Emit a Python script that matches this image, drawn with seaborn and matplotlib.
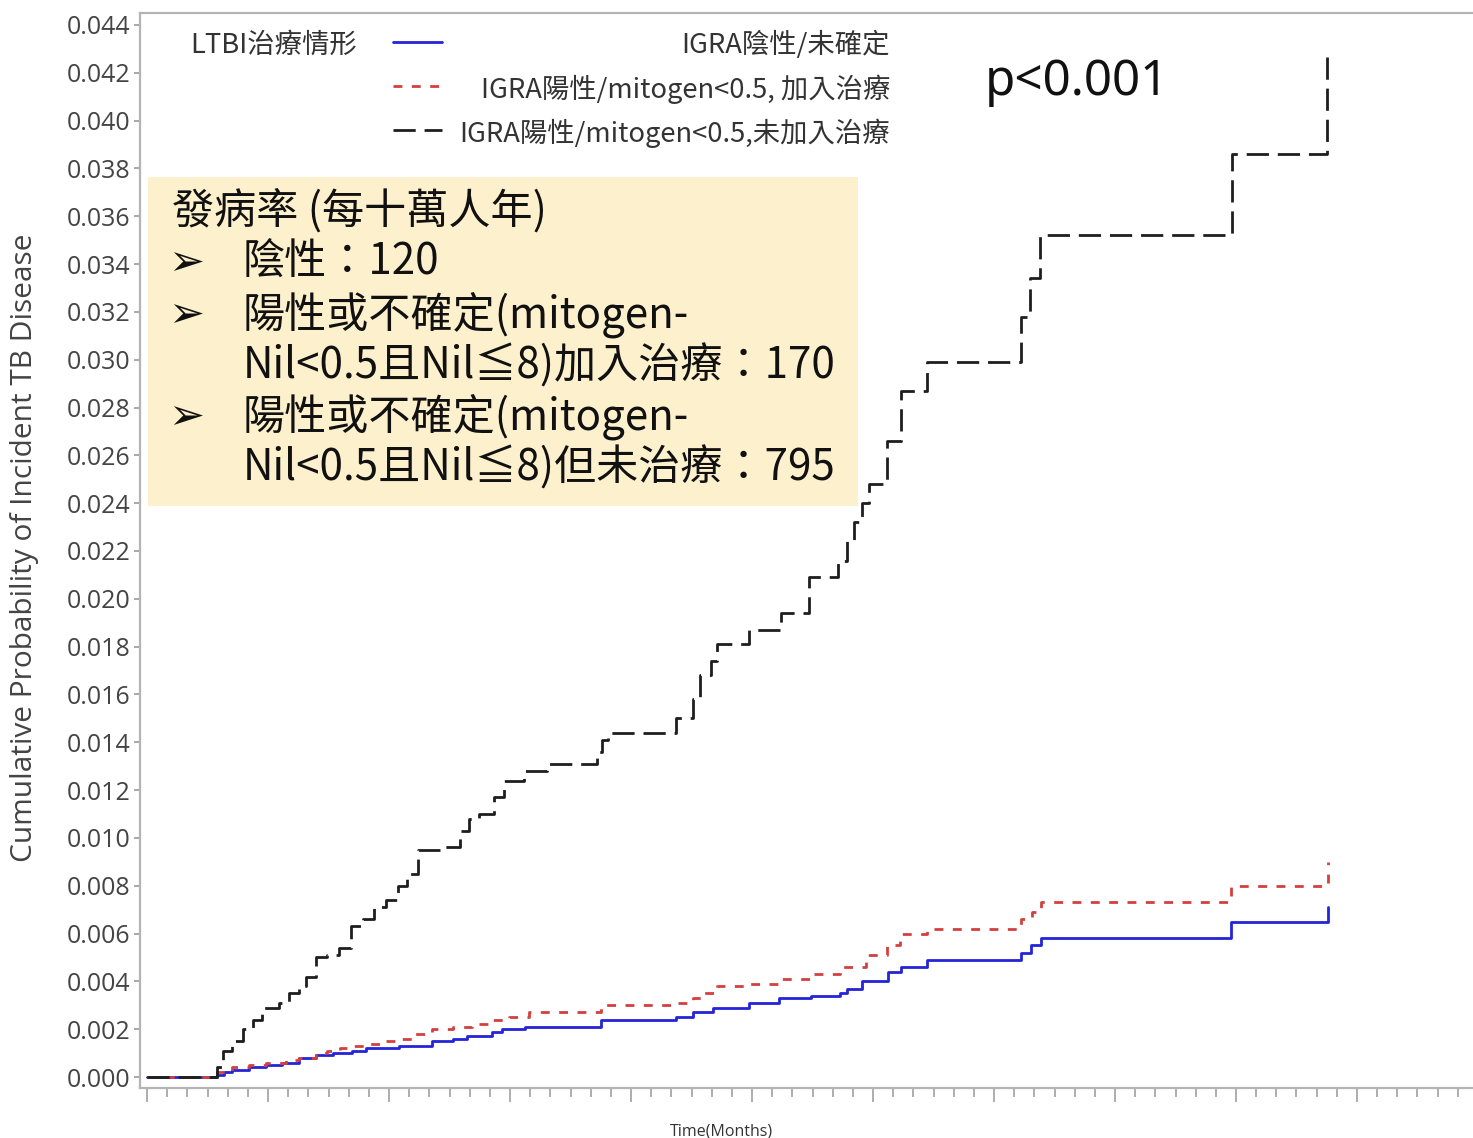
import numpy as np
import pandas as pd
import matplotlib
matplotlib.use("Agg")
import matplotlib.pyplot as plt
import seaborn as sns
from matplotlib.ticker import MultipleLocator, FormatStrFormatter, NullFormatter
from matplotlib.patches import Rectangle
from matplotlib.lines import Line2D

# Cumulative incidence of TB disease by LTBI treatment group (months of follow-up)
neg_months = [0, 6.9, 7.6, 8.4, 10.1, 11.8, 13.4, 15.1, 16.8, 18.4, 20.3, 21.7, 25.0, 28.3,
              30.3, 31.7, 34.2, 35.2, 37.5, 45.0, 52.5, 54.1, 56.1, 59.7, 62.7, 65.8, 68.7,
              69.4, 70.9, 73.5, 74.8, 77.4, 86.7, 87.7, 88.7, 107.5, 117.1]
neg_prob = [0, 0.0001, 0.0002, 0.0003, 0.0004, 0.0005, 0.0006, 0.0008, 0.0009, 0.0010, 0.0011,
            0.0012, 0.0013, 0.0015, 0.0016, 0.0017, 0.0019, 0.0020, 0.0021, 0.0024, 0.0025,
            0.0027, 0.0029, 0.0031, 0.0033, 0.0034, 0.0035, 0.0037, 0.0040, 0.0044, 0.0046,
            0.0049, 0.0052, 0.0055, 0.0058, 0.0065, 0.0071]

treated_months = [0, 6.9, 8.4, 10.1, 11.8, 13.8, 15.1, 16.8, 17.8, 19.1, 20.3, 21.7, 23.7, 25.0,
                  26.3, 28.3, 30.3, 32.2, 34.2, 35.9, 37.9, 45.0, 52.6, 54.1, 55.1, 56.5, 59.7,
                  63.0, 66.0, 68.7, 71.3, 73.4, 74.7, 77.4, 86.7, 87.8, 88.7, 107.5, 117.1]
treated_prob = [0, 0.0002, 0.0004, 0.0005, 0.0006, 0.0007, 0.0008, 0.0010, 0.0011, 0.0012,
                0.0013, 0.0014, 0.0015, 0.0016, 0.0018, 0.0020, 0.0021, 0.0022, 0.0024, 0.0025,
                0.0027, 0.0030, 0.0031, 0.0033, 0.0035, 0.0038, 0.0039, 0.0041, 0.0043, 0.0046,
                0.0051, 0.0055, 0.0060, 0.0062, 0.0066, 0.0069, 0.0073, 0.0080, 0.0090]

untreated_months = [0, 6.9, 7.5, 8.4, 9.5, 10.5, 11.4, 13.1, 14.1, 15.1, 15.8, 16.8, 17.8, 19.0,
                    20.2, 21.4, 22.5, 23.7, 24.9, 25.8, 26.9, 29.5, 31.0, 31.9, 32.9, 34.4, 35.4,
                    37.4, 39.7, 44.6, 45.1, 45.7, 52.5, 54.1, 54.8, 55.9, 56.5, 59.7, 62.9, 65.7,
                    68.5, 69.4, 70.1, 70.9, 71.6, 73.4, 74.8, 77.4, 86.7, 87.6, 88.6, 107.6, 117.0]
untreated_prob = [0, 0.0004, 0.0011, 0.0015, 0.0020, 0.0024, 0.0029, 0.0031, 0.0035, 0.0038,
                  0.0042, 0.0050, 0.0051, 0.0054, 0.0063, 0.0066, 0.0071, 0.0074, 0.0080, 0.0085,
                  0.0095, 0.0096, 0.0103, 0.0108, 0.0110, 0.0117, 0.0124, 0.0128, 0.0131, 0.0136,
                  0.0141, 0.0144, 0.0150, 0.0158, 0.0168, 0.0174, 0.0181, 0.0187, 0.0194, 0.0209,
                  0.0216, 0.0224, 0.0232, 0.0240, 0.0248, 0.0266, 0.0287, 0.0299, 0.0318, 0.0334,
                  0.0352, 0.0386, 0.0430]

group_labels = ["IGRA陰性/未確定",
                "IGRA陽性/mitogen<0.5, 加入治療",
                "IGRA陽性/mitogen<0.5,未加入治療"]
legend_title = "LTBI治療情形"
y_ticks = np.arange(0, 0.0441, 0.002)

note_title = "發病率 (每十萬人年)"
note_items = [["陰性：120"],
              ["陽性或不確定(mitogen-", "Nil<0.5且Nil≦8)加入治療：170"],
              ["陽性或不確定(mitogen-", "Nil<0.5且Nil≦8)但未治療：795"]]
p_text = "p<0.001"

frames = []
for lab, t, p in zip(group_labels,
                     [neg_months, treated_months, untreated_months],
                     [neg_prob, treated_prob, untreated_prob]):
    frames.append(pd.DataFrame({"month": t, "prob": p, "group": lab}))
df = pd.concat(frames, ignore_index=True)

sns.set_theme(style="white")
plt.rcParams["font.family"] = ["Noto Sans CJK TC", "DejaVu Sans"]

W, H = 1473, 1138
fig = plt.figure(figsize=(W / 100, H / 100), dpi=100)
ax = fig.add_axes([140 / W, 1 - 1088 / H, (1480 - 140) / W, (1088 - 13) / H])

styles = {
    group_labels[0]: dict(color="#2424d8", lw=2.0, ls="-"),
    group_labels[1]: dict(color="#d4403f", lw=2.0, ls=(0, (3.2, 3.4))),
    group_labels[2]: dict(color="#1e1e1e", lw=2.0, ls=(0, (8.0, 3.2))),
}
for lab in group_labels:
    st = styles[lab]
    sns.lineplot(data=df[df["group"] == lab], x="month", y="prob", ax=ax,
                 estimator=None, sort=False, drawstyle="steps-post",
                 color=st["color"], linewidth=st["lw"], linestyle=st["ls"],
                 legend=False)

ax.set_xlim(-0.7, 132.2)
ax.set_ylim(-0.00046, 0.0445)
ax.set_xlabel("")
ax.set_ylabel("")

ax.set_yticks(y_ticks)
ax.yaxis.set_major_formatter(FormatStrFormatter("%.3f"))
ax.xaxis.set_major_locator(MultipleLocator(12))
ax.xaxis.set_minor_locator(MultipleLocator(2))
ax.xaxis.set_major_formatter(NullFormatter())
ax.tick_params(axis="y", which="major", left=True, direction="out", length=4,
               width=1.2, color="#9a9a9a", labelsize=18, labelcolor="#444444", pad=3)
ax.tick_params(axis="x", which="major", bottom=True, direction="out", length=10,
               width=1.3, color="#a8a8a8")
ax.tick_params(axis="x", which="minor", bottom=True, direction="out", length=6.5,
               width=1.3, color="#a8a8a8")
for lab in ax.get_yticklabels():
    lab.set_fontfamily("Open Sans")

for side in ["top", "left", "bottom"]:
    ax.spines[side].set_color("#b4b4b4")
    ax.spines[side].set_linewidth(1.6)
ax.spines["right"].set_visible(False)
ax.grid(False)


def fx(px):
    return px / W


def fy(py):
    return 1 - py / H


fig.text(fx(25), fy(548), "Cumulative Probability of Incident TB Disease", rotation=90,
         ha="center", va="center", fontsize=21.5, color="#444444", family="Open Sans")
fig.text(fx(721), fy(1131), "Time(Months)", ha="center", va="center",
         fontsize=11.5, color="#333333", family="Open Sans")

# legend block: title, line keys, right-aligned labels
fig.text(fx(190), fy(45), legend_title, ha="left", va="center", fontsize=19.7, color="#333333")
for i, lab in enumerate(group_labels):
    yy = [45, 89, 133][i]
    st = styles[lab]
    key = Line2D([fx(393), fx(442)], [fy(yy - 3), fy(yy - 3)], transform=fig.transFigure,
                 color=st["color"], linewidth=st["lw"], linestyle=st["ls"])
    fig.add_artist(key)
    fig.text(fx(890), fy(yy), lab, ha="right", va="center", fontsize=19.7, color="#333333")

fig.text(fx(985), fy(82), p_text, ha="left", va="center", fontsize=35.5, color="#111111",
         family="Noto Sans")

# incidence note box
fig.add_artist(Rectangle((fx(148), fy(506)), fx(858) - fx(148), fy(177) - fy(506),
                         transform=fig.transFigure, facecolor="#fdf0cd", edgecolor="none",
                         zorder=3))
fig.text(fx(172), fy(212), note_title, ha="left", va="center", fontsize=30.3, color="#111111",
         zorder=4)
rows = [263, 315, 366, 417, 468]
r = 0
for item in note_items:
    fig.text(fx(168), fy(rows[r]), "➢", ha="left", va="center", fontsize=31, color="#111111",
             family=["DejaVu Sans"], zorder=4)
    for line in item:
        fig.text(fx(243), fy(rows[r]), line, ha="left", va="center", fontsize=30.3,
                 color="#111111", family=["Noto Sans CJK TC", "DejaVu Sans"], zorder=4)
        r += 1

fig.savefig("out.png", dpi=100, facecolor="white")
